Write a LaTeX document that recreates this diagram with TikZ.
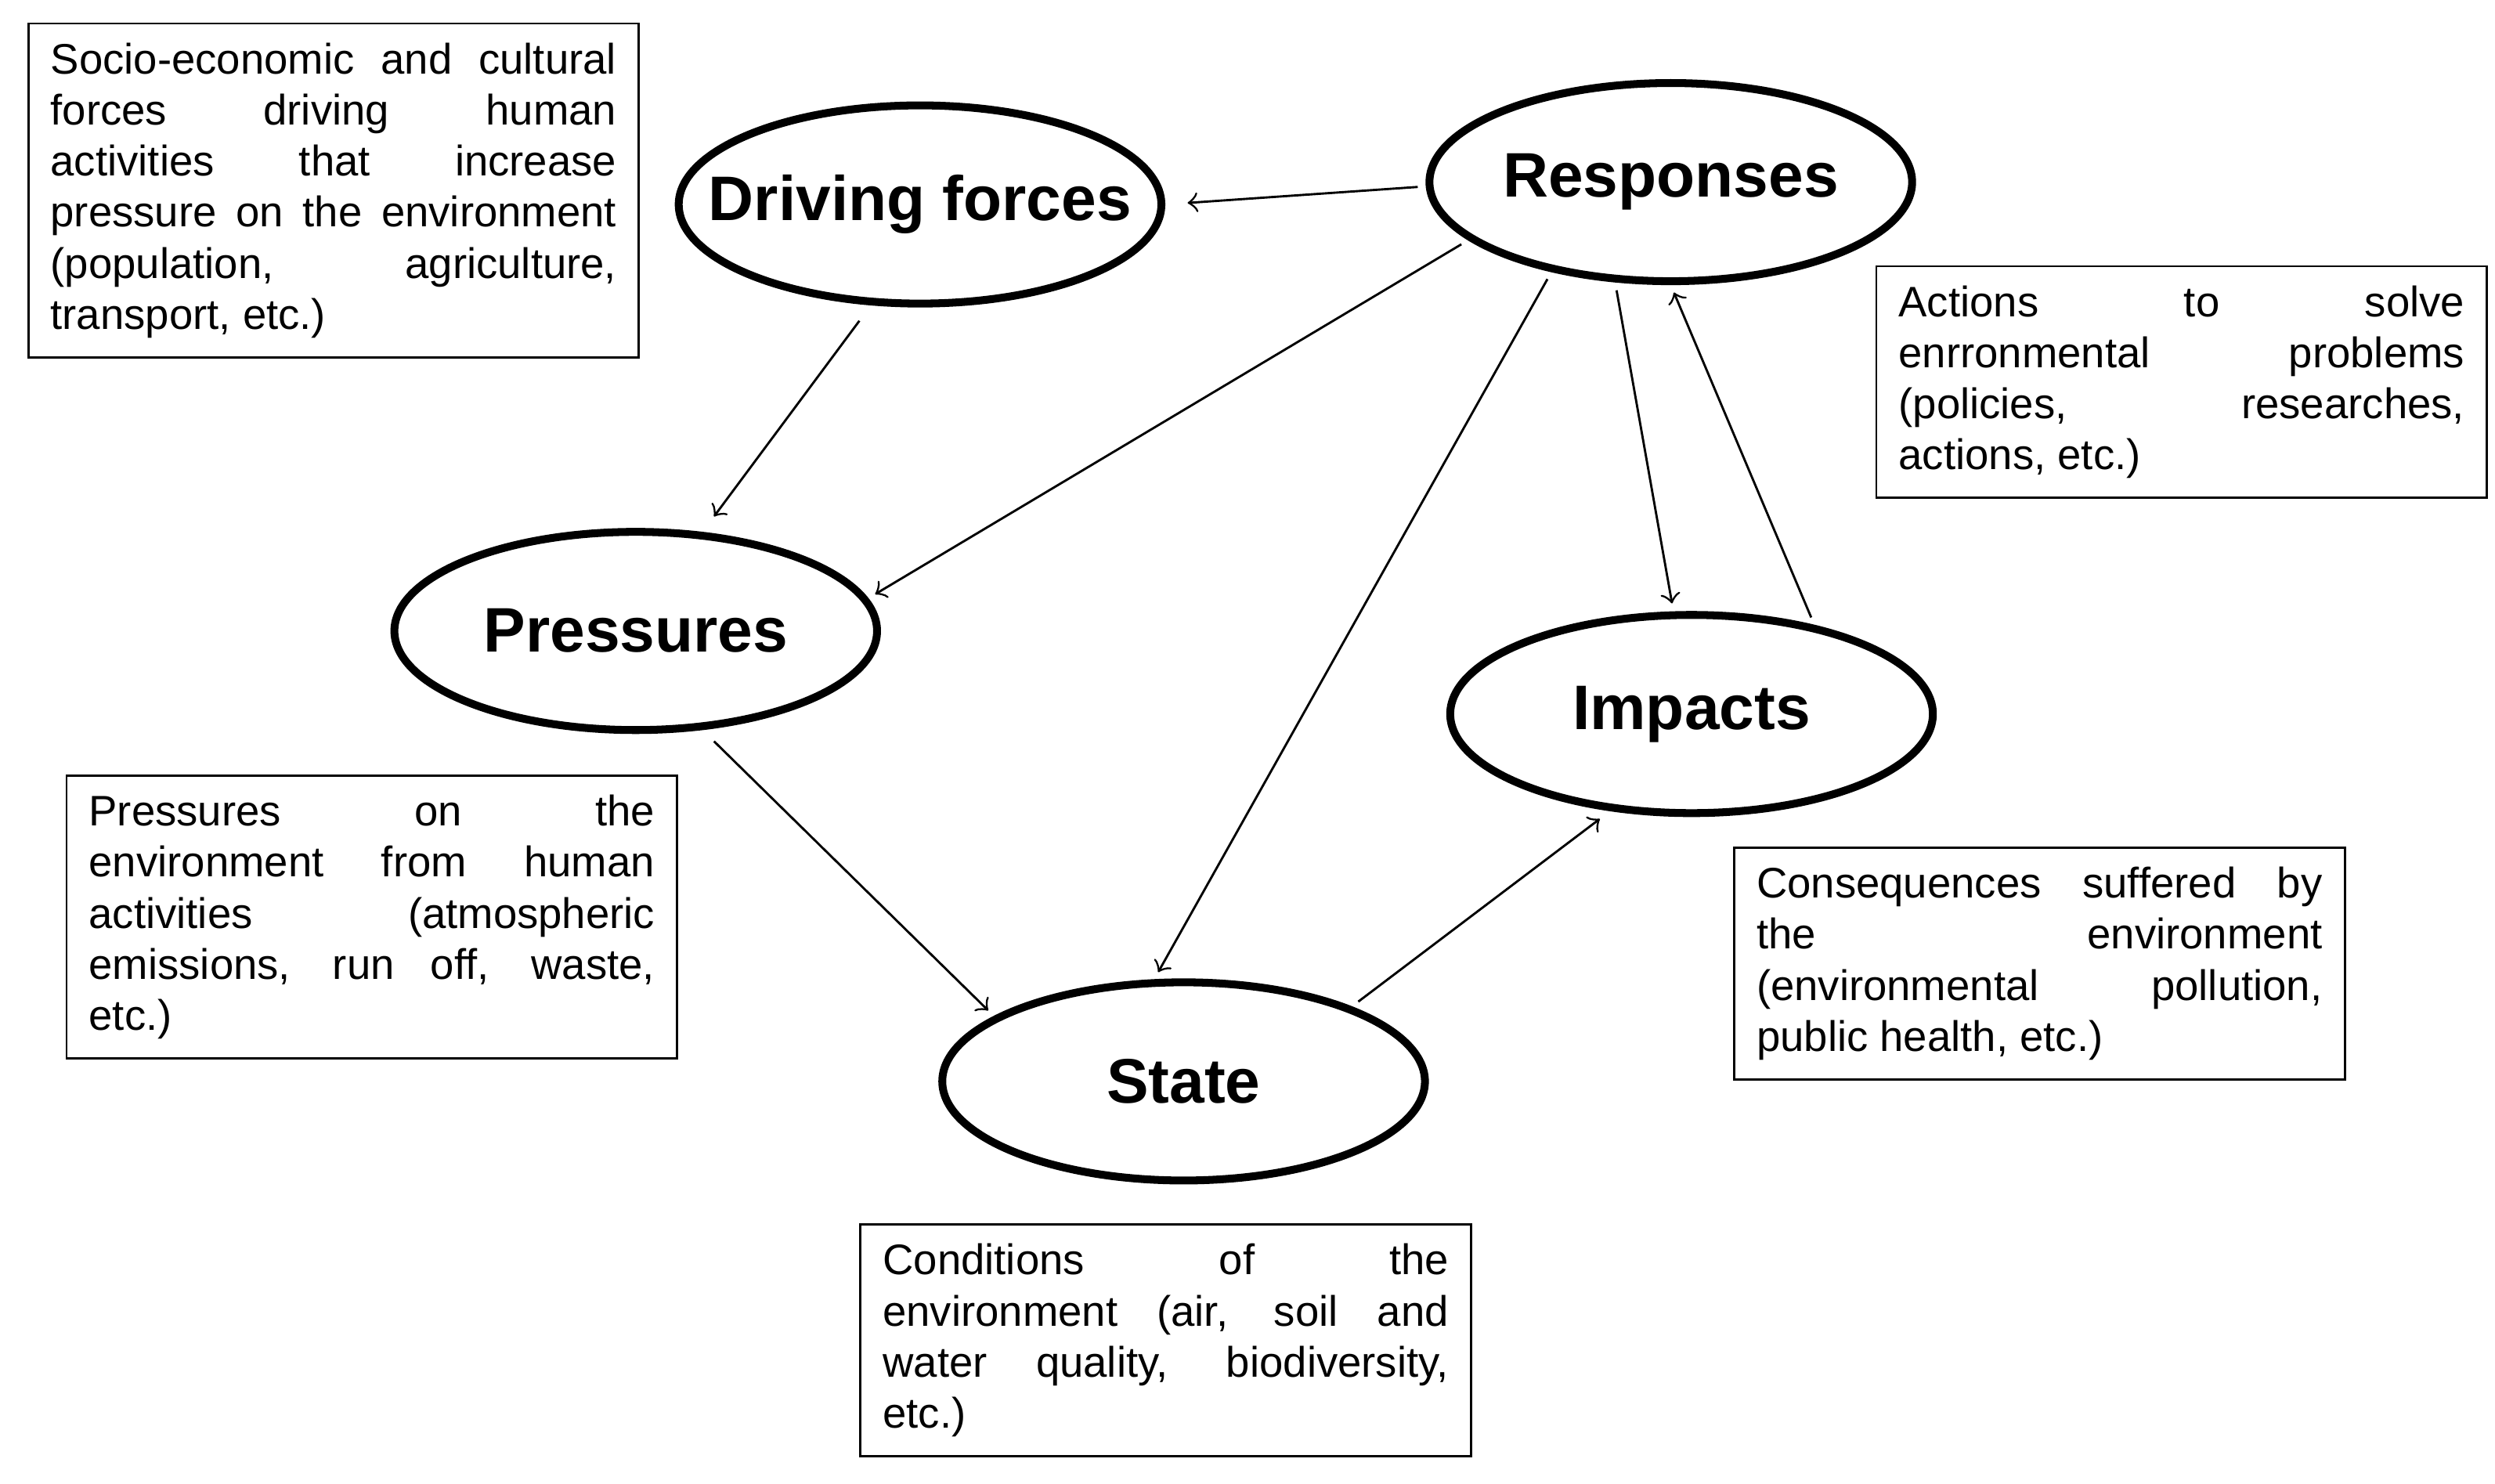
\documentclass[tikz,border=0pt]{standalone}
\usepackage{fontspec}
\setmainfont{Liberation Sans}
\usetikzlibrary{shapes.geometric}
\newcommand\notefont{\fontsize{7.6}{9.1}\selectfont\hyphenpenalty10000\exhyphenpenalty10000\relax}

\begin{document}
\begin{tikzpicture}[x=0.01cm,y=-0.01cm,
	factor/.style={ellipse,draw,line width=1.4pt,minimum width=3.02cm,minimum height=1.24cm,
		inner sep=0pt,font=\fontsize{11.2}{13}\selectfont\bfseries},
	note/.style={rectangle,draw,thin,anchor=north west,inner xsep=0.14cm,inner ysep=0.12cm,
		text width=3.54cm,align=justify,font=\notefont},
	paths/.style={->,>=to,thin,shorten >=0.05cm,shorten <=0.05cm}
	]
\useasboundingbox (0,0) rectangle (1562,929);
% DPSIR ellipses
\node [factor] (df) at (576,128) {\makebox[0pt]{Driving forces}};
\node [factor] (resp) at (1046,114) {\makebox[0pt]{Responses}};
\node [factor] (pres) at (398,395) {\makebox[0pt]{Pressures}};
\node [factor] (imp) at (1059,447) {\makebox[0pt]{Impacts}};
\node [factor] (state) at (741,677) {\makebox[0pt]{State}};

% descriptions
\node [note] (dfnote) at (17,14) {Socio-economic and cultural\linebreak forces driving human\linebreak activities that increase\linebreak pressure on the environment\linebreak (population, agriculture,\linebreak transport, etc.)};
\node [note] (respnote) at (1174,166) {Actions to solve\linebreak enrronmental problems\linebreak (policies, researches,\linebreak actions, etc.)};
\node [note] (presnote) at (41,485) {Pressures on the\linebreak environment from human\linebreak activities (atmospheric\linebreak emissions, run off, waste,\linebreak etc.)};
\node [note] (impnote) at (1085,530) {Consequences suffered by\linebreak the environment\linebreak (environmental pollution,\linebreak public health, etc.)};
\node [note] (statenote) at (538,766) {Conditions of the\linebreak environment (air, soil and\linebreak water quality, biodiversity,\linebreak etc.)};

% causal links
\draw [paths,shorten >=0.14cm] (resp.181) to (df.0);
\draw [paths,shorten <=0.12cm,shorten >=0.12cm] (df.244) to (pres.56);
\draw [paths] (resp.196) to (pres.8);
\draw [paths] (resp.217) to (state.106);
\draw [paths] (resp.241) to (imp.100);
\draw [paths] (imp.36) to (resp.270);
\draw [paths,shorten <=0.1cm] (pres.304) to (state.161);
\draw [paths,shorten >=0.08cm] (state.24) to (imp.230);
\end{tikzpicture}
\end{document}
